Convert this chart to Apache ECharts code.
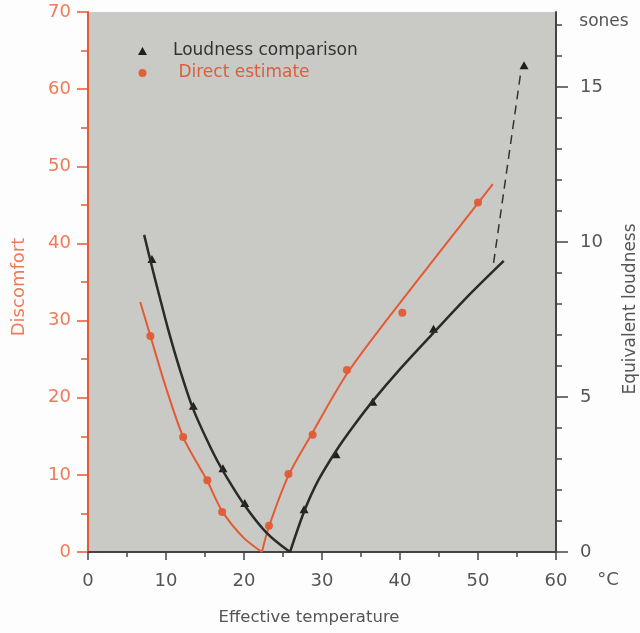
<!DOCTYPE html>
<html>
<head>
<meta charset="utf-8">
<script src="https://cdn.jsdelivr.net/npm/echarts@6/dist/echarts.min.js"></script>
<style>
  html, body { margin: 0; padding: 0; background: #fdfdfd; }
  #chart { width: 640px; height: 633px; }
</style>
</head>
<body>
<div id="chart"></div>
<script>
// Effective temperature (°C) vs discomfort / equivalent loudness (sones)

// Direct estimate (discomfort, left axis) - fitted curve, two branches
const directCurveLeft = [[6.7, 32.4], [8.0, 28.0], [10.0, 21.3], [12.2, 14.9], [14.0, 11.5], [15.3, 9.2], [17.2, 5.3], [19.9, 1.9], [22.3, 0]];
const directCurveRight = [[22.3, 0], [23.2, 3.3], [25.7, 9.9], [28.8, 15.5], [33.2, 23.1], [38.7, 30.6], [45.1, 38.9], [51.9, 47.7]];
// Direct estimate measured points
const directPoints = [[8.0, 28.0], [12.2, 14.9], [15.3, 9.3], [17.2, 5.2], [23.2, 3.4], [25.7, 10.1], [28.8, 15.2], [33.2, 23.6], [40.3, 31.0], [50.0, 45.3]];

// Loudness comparison (sones, right axis) - fitted curve, two branches
const loudCurveLeft = [[7.2, 10.23], [8.2, 9.2], [10.3, 7.16], [11.8, 5.87], [13.5, 4.6], [15.85, 3.3], [17.3, 2.62], [20.1, 1.5], [22.9, 0.62], [25.9, 0]];
const loudCurveRight = [[25.9, 0], [27.7, 1.3], [29.5, 2.3], [31.9, 3.3], [34.0, 4.05], [36.6, 4.9], [40.0, 5.9], [44.4, 7.1], [48.5, 8.2], [53.3, 9.39]];
const loudDashed = [[52.0, 9.33], [55.5, 15.5]];
// Loudness comparison measured points
const loudPoints = [[8.2, 9.45], [13.5, 4.72], [17.3, 2.7], [20.1, 1.58], [27.7, 1.38], [31.8, 3.15], [36.5, 4.85], [44.3, 7.2], [55.9, 15.7]];

// Axis ticks
const xTicks = [0, 10, 20, 30, 40, 50, 60];
const discomfortTicks = [0, 10, 20, 30, 40, 50, 60, 70];
const soneTicks = [0, 5, 10, 15];

const ORANGE = '#e35b35';
const ORANGE_TXT = '#f07a58';
const DARK = '#2a2a2a';
const GRAY_TXT = '#555555';
const FONT = '"DejaVu Sans", sans-serif';

const chart = echarts.init(document.getElementById('chart'), null, { renderer: 'canvas' });

const curveStyle = (color, width) => ({ color: color, width: width });

chart.setOption({
  backgroundColor: '#fdfdfd',
  animation: false,
  grid: {
    left: 88, right: 84, top: 12, bottom: 81,
    show: true, backgroundColor: '#c9c9c6', borderWidth: 0
  },
  legend: {
    orient: 'vertical',
    left: 133, top: 36,
    itemWidth: 9, itemHeight: 8,
    itemGap: 2,
    formatter: n => n === 'Direct estimate' ? ' ' + n : n,
    data: [
      { name: 'Loudness comparison', icon: 'triangle', textStyle: { color: '#333333' } },
      { name: 'Direct estimate', icon: 'circle', textStyle: { color: '#d9603c' } }
    ],
    textStyle: { fontFamily: FONT, fontSize: 17, lineHeight: 20, padding: [0, 0, 0, 21] }
  },
  xAxis: {
    type: 'value', min: xTicks[0], max: xTicks[xTicks.length - 1], interval: 10,
    axisLine: { show: true, lineStyle: { color: '#444444', width: 2 } },
    axisTick: { show: true, length: 8, lineStyle: { color: '#444444', width: 1.5 } },
    minorTick: { show: true, splitNumber: 2, length: 5, lineStyle: { color: '#444444', width: 1.5 } },
    axisLabel: { color: GRAY_TXT, fontFamily: FONT, fontSize: 18, margin: 20 },
    splitLine: { show: false }
  },
  yAxis: [
    {
      type: 'value', min: discomfortTicks[0], max: discomfortTicks[discomfortTicks.length - 1], interval: 10,
      position: 'left',
      axisLine: { show: true, lineStyle: { color: ORANGE, width: 2 } },
      axisTick: { show: true, length: 11, lineStyle: { color: ORANGE, width: 1.5 } },
      minorTick: { show: true, splitNumber: 2, length: 7, lineStyle: { color: ORANGE, width: 1.5 } },
      axisLabel: { color: ORANGE_TXT, fontFamily: FONT, fontSize: 18, margin: 17 },
      splitLine: { show: false }
    },
    {
      type: 'value', min: 0, max: 17.42, interval: 5,
      position: 'right',
      axisLine: { show: true, lineStyle: { color: '#444444', width: 2 } },
      axisTick: { show: true, length: 12, customValues: soneTicks, lineStyle: { color: '#444444', width: 1.5 } },
      minorTick: { show: true, splitNumber: 5, length: 6, lineStyle: { color: '#444444', width: 1.5 } },
      axisLabel: { color: GRAY_TXT, fontFamily: FONT, fontSize: 18, margin: 24, customValues: soneTicks },
      splitLine: { show: false }
    }
  ],
  graphic: [
    { type: 'text', x: 309, y: 618, style: { text: 'Effective temperature', fill: GRAY_TXT, font: '16.5px ' + FONT, textAlign: 'center', textVerticalAlign: 'middle' } },
    { type: 'text', x: 19, y: 287, rotation: Math.PI / 2, style: { text: 'Discomfort', fill: ORANGE_TXT, font: '18px ' + FONT, textAlign: 'center', textVerticalAlign: 'middle' } },
    { type: 'text', x: 631, y: 309, rotation: Math.PI / 2, style: { text: 'Equivalent loudness', fill: GRAY_TXT, font: '17px ' + FONT, textAlign: 'center', textVerticalAlign: 'middle' } },
    { type: 'text', x: 604, y: 22, style: { text: 'sones', fill: GRAY_TXT, font: '17px ' + FONT, textAlign: 'center', textVerticalAlign: 'middle' } },
    { type: 'text', x: 608, y: 580, style: { text: '°C', fill: GRAY_TXT, font: '18px ' + FONT, textAlign: 'center', textVerticalAlign: 'middle' } }
  ],
  series: [
    { name: 'directLeft', type: 'line', smooth: 0.3, showSymbol: false, data: directCurveLeft, yAxisIndex: 0,
      lineStyle: curveStyle(ORANGE, 2), silent: true },
    { name: 'directRight', type: 'line', smooth: 0.3, showSymbol: false, data: directCurveRight, yAxisIndex: 0,
      lineStyle: curveStyle(ORANGE, 2), silent: true },
    { name: 'loudLeft', type: 'line', smooth: 0.3, showSymbol: false, data: loudCurveLeft, yAxisIndex: 1,
      lineStyle: curveStyle(DARK, 2.5), silent: true },
    { name: 'loudRight', type: 'line', smooth: 0.3, showSymbol: false, data: loudCurveRight, yAxisIndex: 1,
      lineStyle: curveStyle(DARK, 2.5), silent: true },
    { name: 'loudDash', type: 'line', showSymbol: false, data: loudDashed, yAxisIndex: 1,
      lineStyle: { color: '#333333', width: 1.5, type: [9, 6] }, silent: true },
    { name: 'Direct estimate', type: 'scatter', data: directPoints, yAxisIndex: 0,
      symbol: 'circle', symbolSize: 8, itemStyle: { color: '#e0603a', opacity: 1 } },
    { name: 'Loudness comparison', type: 'scatter', data: loudPoints, yAxisIndex: 1,
      symbol: 'triangle', symbolSize: [9, 8], itemStyle: { color: '#1f1f1f', opacity: 1 } }
  ]
});
</script>
</body>
</html>
